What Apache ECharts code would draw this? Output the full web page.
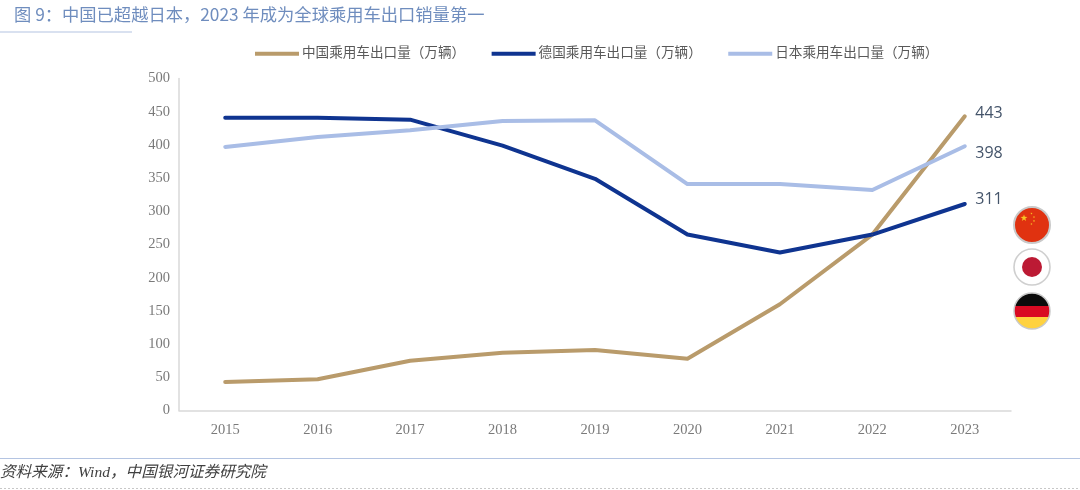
<!DOCTYPE html>
<html><head><meta charset="utf-8">
<style>html,body{margin:0;padding:0;background:#fff}#c{width:1080px;height:490px}</style>
<script src="https://cdn.jsdelivr.net/npm/echarts@6/dist/echarts.min.js"></script>
</head><body><div id="c"></div>
<script>
const categories=['2015','2016','2017','2018','2019','2020','2021','2022','2023'];
const china=[43,47,75,87,91,78,160,265,443];
const germany=[441,441,438,399,349,265,238,265,311];
const japan=[397,412,422,436,437,341,341,332,398];
const yTicks={min:0,max:500,interval:50};
const names=['中国乘用车出口量（万辆）','德国乘用车出口量（万辆）','日本乘用车出口量（万辆）'];
const colors=['#B99B6B','#0F3490','#A9BDE6'];
const cjk='"Liberation Serif","Noto Sans CJK SC",serif';
const chart=echarts.init(document.getElementById('c'),null,{renderer:'canvas'});
function endLabel(){return {show:true,position:'right',distance:10,color:'#44546A',fontSize:16,fontFamily:'"Open Sans","DejaVu Sans",sans-serif',formatter:p=>p.dataIndex===8?String(p.value):''};}
function mk(i,data,dy){return {name:names[i],type:'line',data,symbol:'circle',symbolSize:1,showSymbol:true,smooth:false,
 lineStyle:{color:colors[i],width:4,cap:'round',join:'round'},itemStyle:{color:colors[i]},
 label:Object.assign(endLabel(),{offset:[0,dy]})};}
const star=(cx,cy,r,rot)=>{const p=[];for(let k=0;k<10;k++){const a=-Math.PI/2+rot+k*Math.PI/5,q=k%2?r*0.4:r;p.push([cx+q*Math.cos(a),cy+q*Math.sin(a)]);}
 return {type:'polygon',silent:true,shape:{points:p},style:{fill:'#F6C324'},z:12};};
const hardStops=[{offset:0,color:'#0b0b0b'},{offset:0.355,color:'#0b0b0b'},{offset:0.355,color:'#D90A22'},{offset:0.67,color:'#D90A22'},{offset:0.67,color:'#FFD23F'},{offset:1,color:'#FFD23F'}];
chart.setOption({
 animation:false,backgroundColor:'#fff',
 grid:{left:179,right:69,top:78.5,bottom:79.5,containLabel:false},
 legend:{top:42,left:250,itemWidth:44,itemHeight:4,itemGap:26.5,icon:'rect',
  textStyle:{color:'#595959',fontSize:13.6,fontFamily:cjk,padding:[0,0,0,-2]},data:names},
 xAxis:{type:'category',data:categories,boundaryGap:true,
  axisLine:{lineStyle:{color:'#D9D9D9',width:1.5}},axisTick:{show:false},
  axisLabel:{color:'#7a7a7a',fontSize:14.5,fontFamily:cjk,margin:12}},
 yAxis:{type:'value',min:yTicks.min,max:yTicks.max,interval:yTicks.interval,
  axisLine:{show:true,lineStyle:{color:'#D9D9D9',width:1.5}},axisTick:{show:false},splitLine:{show:false},
  axisLabel:{color:'#7a7a7a',fontSize:14.5,fontFamily:cjk,margin:9}},
 series:[mk(0,china,-3),mk(1,germany,-5),mk(2,japan,7)],
 graphic:[
  {type:'text',left:14,top:6,style:{text:'图 9：中国已超越日本，2023 年成为全球乘用车出口销量第一',fill:'#6F8DBE',fontSize:17.3,fontFamily:'"Noto Sans CJK SC",sans-serif'}},
  {type:'line',shape:{x1:0,y1:32,x2:132,y2:32},style:{stroke:'#B4C4E2',lineWidth:1.2}},
  {type:'line',shape:{x1:0,y1:458.5,x2:1080,y2:458.5},style:{stroke:'#B4C4E2',lineWidth:1.2}},
  {type:'line',shape:{x1:0,y1:488.5,x2:1080,y2:488.5},style:{stroke:'#C8C8C8',lineWidth:1,lineDash:[2,2]}},
  {type:'text',left:0,top:465,style:{text:'资料来源：Wind，中国银河证券研究院',fill:'#404040',fontSize:15.6,fontStyle:'italic',fontFamily:'"Liberation Serif","Noto Sans CJK SC",serif'}},
  {type:'circle',shape:{cx:1032,cy:225,r:18},style:{fill:'#E03210',stroke:'#C9C9C9',lineWidth:2},z:11},
  star(1024,218,3.6,0),star(1031.5,213.5,1.2,0.4),star(1034,217,1.2,0.8),star(1034,221,1.2,0),star(1031.5,224,1.2,0.4),
  {type:'circle',shape:{cx:1032,cy:267,r:18},style:{fill:'#fff',stroke:'#CFCFCF',lineWidth:1.6},z:11},
  {type:'circle',shape:{cx:1032,cy:267,r:10},style:{fill:'#BC1A34'},z:12},
  {type:'circle',shape:{cx:1032,cy:311,r:18},style:{stroke:'#C9C9C9',lineWidth:1.5,fill:{type:'linear',x:0,y:0,x2:0,y2:1,colorStops:hardStops}},z:11}
 ]
});
</script></body></html>
